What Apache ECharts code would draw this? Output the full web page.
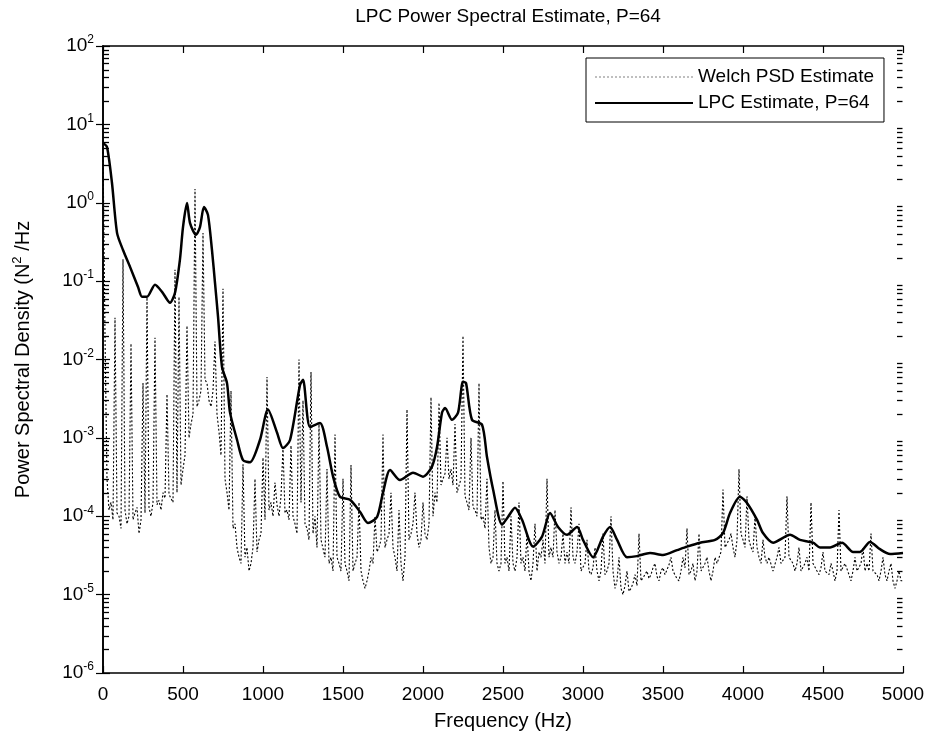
<!DOCTYPE html>
<html>
<head>
<meta charset="utf-8">
<script src="https://cdn.jsdelivr.net/npm/echarts@6/dist/echarts.min.js"></script>
<style>
  html, body { margin: 0; padding: 0; background: #fff; }
  #main { width: 930px; height: 744px; }
</style>
</head>
<body>
<div id="main"></div>
<script>
// LPC all-pole spectrum (P = 64): frequency in Hz, PSD in N^2/Hz
const lpcFreq = [0,25,56,88,125,169,219,244,275,325,369,419,450,481,500,525,544,581,606,631,
  656,681,700,719,744,775,794,838,875,919,981,1031,1088,1125,1169,1231,1250,1294,1356,1400,
  1438,1481,1544,1606,1656,1713,1750,1794,1856,1938,2000,2056,2088,2119,2138,2181,2219,2250,2269,2306,
  2369,2400,2438,2494,2531,2575,2619,2688,2744,2794,2844,2900,2963,3000,3063,3125,3169,3213,3275,3338,
  3419,3500,3588,3650,3731,3825,3875,3919,3981,4025,4088,4125,4188,4294,4356,4438,4481,4544,4619,4688,
  4731,4794,4856,4919,5000];
const lpcPsd = [5.8,5.15,1.8,0.41,0.25,0.152,0.084,0.063,0.063,0.09,0.073,0.053,0.071,0.19,0.49,0.99,0.55,0.39,0.49,0.88,
  0.70,0.25,0.095,0.035,0.008,0.005,0.0021,9.4e-4,5.2e-4,4.9e-4,9.4e-4,2.3e-3,1.16e-3,7.4e-4,9.4e-4,4.7e-3,5.5e-3,1.38e-3,1.55e-3,7.7e-4,
  3.2e-4,1.77e-4,1.62e-4,1.14e-4,8.2e-5,9.8e-5,2.0e-4,3.9e-4,2.9e-4,3.6e-4,3.2e-4,4.3e-4,7.7e-4,2.1e-3,2.4e-3,1.7e-3,2.1e-3,5.2e-3,5.0e-3,1.7e-3,
  1.47e-3,5.7e-4,2.2e-4,7.8e-5,9.8e-5,1.28e-4,9.0e-5,4.1e-5,5.5e-5,1.1e-4,7.3e-5,5.8e-5,7.3e-5,5.0e-5,3.0e-5,5.5e-5,7.3e-5,5.0e-5,3.0e-5,3.1e-5,
  3.4e-5,3.2e-5,3.7e-5,4.1e-5,4.6e-5,5.0e-5,6.1e-5,1.1e-4,1.77e-4,1.48e-4,9.0e-5,6.1e-5,4.6e-5,5.8e-5,5.0e-5,4.6e-5,4.0e-5,4.0e-5,4.6e-5,3.5e-5,
  3.5e-5,4.7e-5,3.8e-5,3.3e-5,3.4e-5];

// Welch periodogram estimate on a 12.5 Hz bin grid (0 ... 5000 Hz), one row per 100 Hz
const welchBinHz = 12.5;
const welchPsd = [
  5.0, 2.0e-2, 3.0e-4, 1.2e-4, 1.5e-4, 9.0e-5, 3.4e-2, 1.1e-4,
  1.0e-4, 7.0e-5, 1.9e-1, 1.2e-4, 8.0e-5, 1.0e-4, 1.6e-2, 9.0e-5,
  1.1e-4, 1.3e-4, 6.0e-5, 9.0e-5, 5.0e-3, 1.1e-4, 6.2e-2, 1.3e-4,
  1.0e-4, 1.5e-4, 1.9e-2, 1.4e-4, 1.6e-4, 1.2e-4, 2.0e-4, 1.7e-4,
  3.6e-3, 1.9e-4, 1.8e-4, 1.5e-4, 1.4e-1, 2.0e-4, 6.3e-2, 2.5e-4,
  4.0e-4, 6.0e-4, 2.7e-2, 1.0e-3, 1.5e-3, 2.0e-3, 1.5, 2.5e-3,
  3.0e-3, 4.0e-3, 4.1e-1, 5.5e-3, 5.0e-3, 3.0e-3, 2.5e-3, 4.0e-3,
  1.7e-2, 2.0e-3, 1.2e-3, 6.0e-4, 8.0e-2, 3.0e-4, 2.0e-4, 1.2e-4,
  4.0e-3, 7.0e-5, 8.0e-5, 4.0e-5, 3.0e-5, 2.5e-5, 4.6e-4, 3.0e-5,
  4.0e-5, 2.0e-5, 2.5e-5, 4.0e-5, 3.0e-4, 3.5e-5, 5.0e-5, 6.0e-5,
  5.6e-4, 9.0e-5, 6.0e-3, 1.2e-4, 1.5e-4, 1.0e-4, 2.7e-4, 1.4e-4,
  1.0e-4, 1.8e-4, 7.6e-4, 1.1e-4, 1.2e-4, 9.0e-5, 8.0e-4, 1.0e-4,
  8.0e-5, 6.0e-5, 1.0e-2, 1.5e-4, 3.0e-3, 8.0e-5, 7.0e-5, 5.0e-5,
  6.9e-3, 6.0e-5, 1.0e-4, 4.0e-5, 1.5e-3, 5.0e-5, 5.0e-5, 3.0e-5,
  4.0e-4, 2.5e-5, 3.0e-5, 2.0e-5, 1.1e-3, 3.0e-5, 2.5e-5, 2.0e-5,
  3.0e-4, 2.5e-5, 2.0e-5, 1.5e-5, 4.5e-4, 2.0e-5, 2.5e-5, 3.0e-5,
  1.5e-4, 2.0e-5, 1.5e-5, 1.2e-5, 1.5e-5, 2.0e-5, 3.0e-5, 2.5e-5,
  1.0e-4, 3.5e-5, 4.0e-5, 5.0e-5, 1.1e-3, 4.0e-5, 5.0e-5, 6.0e-5,
  2.0e-4, 4.0e-5, 3.0e-5, 2.0e-5, 1.2e-4, 2.5e-5, 1.5e-5, 3.0e-5,
  2.3e-3, 5.0e-5, 6.0e-5, 8.0e-5, 2.0e-4, 6.0e-5, 4.0e-5, 5.0e-5,
  1.5e-4, 6.0e-5, 5.0e-5, 8.0e-5, 3.3e-3, 1.0e-4, 2.0e-4, 1.5e-4,
  2.8e-3, 2.5e-4, 3.0e-4, 3.5e-4, 1.0e-3, 3.0e-4, 4.0e-4, 2.5e-4,
  1.5e-3, 2.0e-4, 2.0e-4, 3.0e-4, 2.0e-2, 1.8e-4, 1.5e-4, 1.2e-4,
  1.0e-3, 1.3e-4, 1.2e-4, 1.0e-4, 5.0e-3, 9.0e-5, 1.0e-4, 7.0e-5,
  3.0e-4, 4.0e-5, 2.5e-5, 3.0e-5, 1.2e-4, 2.5e-5, 2.0e-5, 2.5e-5,
  2.8e-4, 2.5e-5, 3.0e-5, 2.0e-5, 1.0e-4, 2.5e-5, 2.0e-5, 3.0e-5,
  1.5e-4, 2.5e-5, 3.0e-5, 2.0e-5, 6.0e-5, 2.0e-5, 1.5e-5, 2.5e-5,
  8.0e-5, 2.0e-5, 3.5e-5, 3.0e-5, 5.0e-5, 2.5e-5, 3.0e-4, 3.0e-5,
  4.0e-5, 3.0e-5, 1.2e-4, 3.5e-5, 2.5e-5, 3.0e-5, 6.0e-5, 2.5e-5,
  3.5e-5, 2.5e-5, 1.3e-4, 3.0e-5, 2.5e-5, 3.5e-5, 8.0e-5, 2.0e-5,
  2.0e-5, 2.5e-5, 5.0e-5, 2.0e-5, 1.8e-5, 2.2e-5, 4.0e-5, 2.0e-5,
  1.5e-5, 2.0e-5, 6.0e-5, 1.8e-5, 2.0e-5, 2.5e-5, 1.0e-4, 2.0e-5,
  1.2e-5, 1.5e-5, 3.0e-5, 1.2e-5, 1.0e-5, 1.3e-5, 2.0e-5, 1.1e-5,
  1.2e-5, 1.4e-5, 1.8e-5, 1.3e-5, 6.0e-5, 1.5e-5, 1.5e-5, 1.8e-5,
  2.0e-5, 1.6e-5, 1.8e-5, 2.2e-5, 2.5e-5, 1.7e-5, 1.5e-5, 2.0e-5,
  2.2e-5, 1.8e-5, 1.8e-5, 2.4e-5, 3.0e-5, 2.0e-5, 2.0e-5, 1.6e-5,
  1.5e-5, 2.0e-5, 3.0e-5, 2.2e-5, 7.0e-5, 1.8e-5, 2.0e-5, 2.5e-5,
  1.5e-5, 2.0e-5, 6.0e-5, 2.0e-5, 2.0e-5, 2.5e-5, 3.0e-5, 2.0e-5,
  1.5e-5, 2.0e-5, 3.0e-5, 2.5e-5, 2.5e-5, 3.5e-5, 2.2e-4, 4.0e-5,
  4.0e-5, 5.0e-5, 6.0e-5, 4.0e-5, 3.0e-5, 5.0e-5, 4.0e-4, 6.0e-5,
  5.0e-5, 4.0e-5, 1.8e-4, 5.0e-5, 4.0e-5, 3.5e-5, 1.0e-4, 4.0e-5,
  3.0e-5, 2.5e-5, 5.0e-5, 3.0e-5, 2.5e-5, 3.0e-5, 3.0e-5, 2.0e-5,
  2.0e-5, 3.0e-5, 4.0e-5, 2.5e-5, 2.5e-5, 3.0e-5, 1.8e-4, 3.0e-5,
  3.0e-5, 2.5e-5, 2.0e-5, 2.5e-5, 4.0e-5, 2.0e-5, 2.0e-5, 2.5e-5,
  3.0e-5, 2.0e-5, 1.5e-4, 2.5e-5, 2.5e-5, 2.0e-5, 1.8e-5, 2.2e-5,
  3.5e-5, 2.0e-5, 2.0e-5, 1.8e-5, 2.5e-5, 2.0e-5, 1.5e-5, 2.0e-5,
  1.2e-4, 2.0e-5, 2.0e-5, 2.5e-5, 2.5e-5, 1.8e-5, 1.5e-5, 2.0e-5,
  3.0e-5, 2.0e-5, 2.0e-5, 2.5e-5, 4.0e-5, 2.0e-5, 2.5e-5, 2.0e-5,
  6.0e-5, 2.0e-5, 2.0e-5, 1.8e-5, 1.5e-5, 2.0e-5, 3.0e-5, 1.8e-5,
  1.5e-5, 2.0e-5, 2.5e-5, 1.5e-5, 1.2e-5, 1.5e-5, 2.0e-5, 1.5e-5,
  1.5e-5
];

// Axis settings
const freqTicks = [0, 500, 1000, 1500, 2000, 2500, 3000, 3500, 4000, 4500, 5000];
const psdMin = 1e-6, psdMax = 1e2;

const FONT = 'Liberation Sans, Arial, Helvetica, sans-serif';

const welchData = welchPsd.map((v, i) => [i * welchBinHz, v]);
const lpcData = lpcFreq.map((f, i) => [f, lpcPsd[i]]);

const chart = echarts.init(document.getElementById('main'), null, { renderer: 'canvas' });

const grid = { left: 103, right: 27, top: 46, bottom: 71 };

function expLabel(v) {
  const e = Math.round(Math.log10(v));
  return '{b|10}{s|' + e + '}';
}

const xCommon = {
  type: 'value', min: freqTicks[0], max: freqTicks[freqTicks.length - 1], interval: 500,
  splitLine: { show: false },
  axisLine: { show: true, lineStyle: { color: '#000', width: 1.6 } },
  axisTick: { show: true, inside: true, length: 7, lineStyle: { color: '#000', width: 1.2 } }
};
const yCommon = {
  type: 'log', logBase: 10, min: psdMin, max: psdMax, splitNumber: 8,
  splitLine: { show: false },
  axisLine: { show: true, lineStyle: { color: '#000', width: 1.6 } },
  axisTick: { show: true, inside: true, length: 7, lineStyle: { color: '#000', width: 1.2 } }
};

chart.setOption({
  animation: false,
  backgroundColor: '#fff',
  title: {
    text: 'LPC Power Spectral Estimate, P=64',
    left: 503, top: 2, textAlign: 'center',
    textStyle: { fontFamily: FONT, fontSize: 19, fontWeight: 'normal', color: '#000' }
  },
  legend: {
    orient: 'vertical',
    left: 586, top: 58,
    itemWidth: 98, itemHeight: 14, itemGap: 6,
    padding: [9, 10, 9, 8],
    borderColor: '#000', borderWidth: 1, backgroundColor: '#fff',
    itemStyle: { opacity: 0 },
    textStyle: { fontFamily: FONT, fontSize: 19, color: '#000', lineHeight: 20 },
    data: [
      { name: 'Welch PSD Estimate', lineStyle: { opacity: 0.25 } },
      { name: 'LPC Estimate, P=64' }
    ]
  },
  grid: grid,
  xAxis: [
    Object.assign({}, xCommon, {
      position: 'bottom',
      name: 'Frequency (Hz)', nameLocation: 'middle', nameGap: 38,
      nameTextStyle: { fontFamily: FONT, fontSize: 20, color: '#000' },
      axisLabel: { show: true, margin: 12, color: '#000', fontFamily: FONT, fontSize: 19,
        formatter: v => String(v) }
    }),
    Object.assign({}, xCommon, { position: 'top', axisLabel: { show: false } })
  ],
  yAxis: [
    Object.assign({}, yCommon, {
      position: 'left',
      name: '{n|Power Spectral Density (N}{s|2}{n| /Hz}',
      nameLocation: 'middle', nameGap: 68, nameRotate: 90,
      nameTextStyle: {
        rich: {
          n: { fontFamily: FONT, fontSize: 20, color: '#000', lineHeight: 24 },
          s: { fontFamily: FONT, fontSize: 13, color: '#000', lineHeight: 24, verticalAlign: 'top' }
        }
      },
      axisLabel: {
        show: true, margin: 9, color: '#000',
        formatter: expLabel,
        rich: {
          b: { fontFamily: FONT, fontSize: 19, color: '#000', lineHeight: 24 },
          s: { fontFamily: FONT, fontSize: 12, color: '#000', lineHeight: 24, verticalAlign: 'top' }
        }
      }
    }),
    Object.assign({}, yCommon, { position: 'right', axisLabel: { show: false } })
  ],
  series: [
    {
      name: 'Welch PSD Estimate', type: 'line', data: welchData,
      xAxisIndex: 0, yAxisIndex: 0,
      symbol: 'none', silent: true,
      lineStyle: { color: '#000', width: 1.1, type: [2, 2] },
      itemStyle: { color: '#000' },
      z: 2
    },
    {
      name: 'LPC Estimate, P=64', type: 'line', data: lpcData,
      xAxisIndex: 0, yAxisIndex: 0,
      symbol: 'none', silent: true, smooth: 0.25,
      lineStyle: { color: '#000', width: 2.5 },
      itemStyle: { color: '#000' },
      z: 3
    }
  ]
});

// Minor ticks at 2..9 x 10^n on both vertical edges, placed through the y scale
function drawMinorTicks() {
  const els = [];
  const xl = grid.left;
  const xr = 930 - grid.right;
  for (let d = -6; d < 2; d++) {
    for (let k = 2; k <= 9; k++) {
      const y = Math.round(chart.convertToPixel({ yAxisIndex: 0 }, k * Math.pow(10, d))) + 0.5;
      els.push({ type: 'line', silent: true, z: 100,
        shape: { x1: xl + 0.5, y1: y, x2: xl + 6, y2: y }, style: { stroke: '#000', lineWidth: 1.3 } });
      els.push({ type: 'line', silent: true, z: 100,
        shape: { x1: xr - 6, y1: y, x2: xr - 0.5, y2: y }, style: { stroke: '#000', lineWidth: 1.3 } });
    }
  }
  chart.setOption({ graphic: { elements: els } });
}
drawMinorTicks();
</script>
</body>
</html>
